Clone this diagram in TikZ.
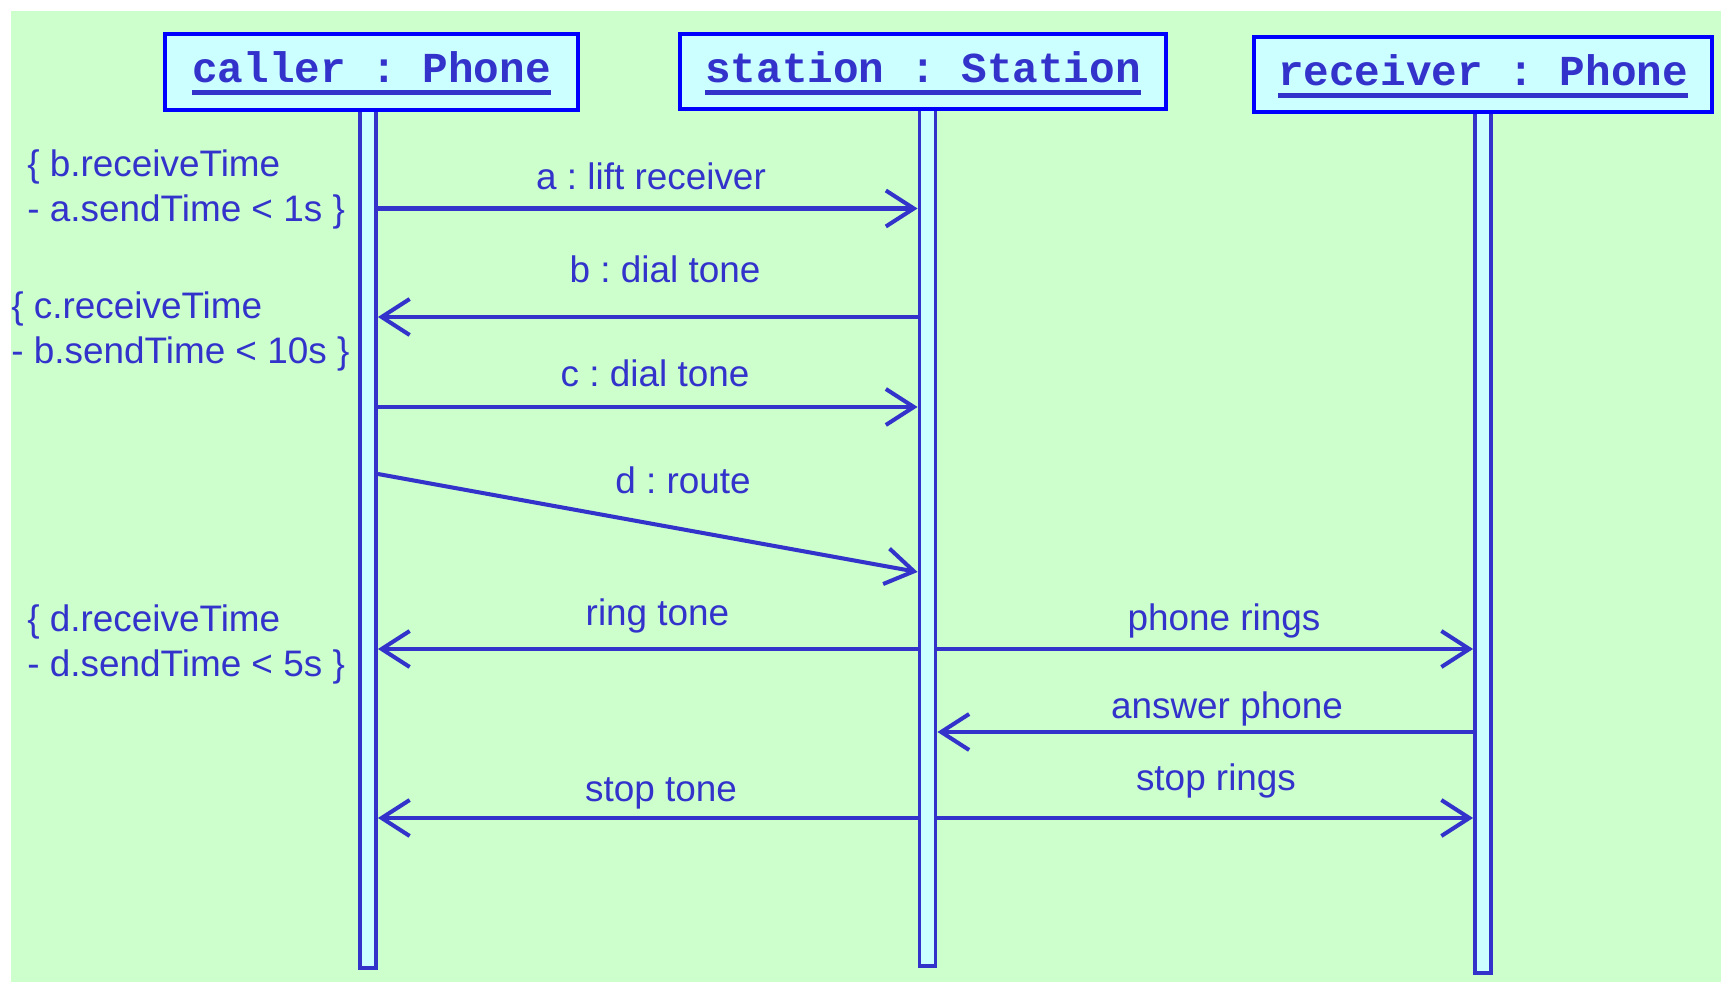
\documentclass[tikz,border=0pt]{standalone}
\usepackage{fontspec}
\setmainfont{Liberation Sans}
\newfontfamily\monofont{Liberation Mono}
\usepackage{xcolor}
\usetikzlibrary{arrows.meta, positioning, calc}
\frenchspacing

\definecolor{bggreen}{HTML}{CCFFCC}
\definecolor{boxfill}{HTML}{CCFFFF}
\definecolor{boxblue}{HTML}{0000FF}
\definecolor{lineblue}{HTML}{3333CC}

% underlined object name
\newcommand{\objname}[1]{\setbox0\hbox{#1}\rlap{\rule[-0.25cm]{\wd0}{0.1cm}}\box0}

\begin{document}
\begin{tikzpicture}[x=0.02cm, y=-0.02cm,
  font=\fontsize{21pt}{25.6pt}\selectfont, text=lineblue,
  objbox/.style={draw=boxblue, fill=boxfill, line width=2.5pt, inner sep=0pt,
    text height=0.7cm, text depth=0.26cm,
    font=\monofont\bfseries\fontsize{24.3pt}{29pt}\selectfont},
  lifeline/.style={draw=lineblue, fill=boxfill, line width=2.2pt,
    minimum width=0.32cm, inner sep=0pt},
  msg/.style={draw=lineblue, line width=2.3pt,
    -{Straight Barb[length=0.56cm,width=0.72cm]}},
  msglabel/.style={anchor=base, inner sep=0pt},
  constraint/.style={anchor=north west, align=left, inner sep=0pt}]

  \useasboundingbox (0,0) rectangle (1721,982);
  % background
  \fill[bggreen] (11,11) rectangle (1721,982);

  % lifelines
  \node[lifeline, minimum height=17.16cm] (cl) at (368,539) {};
  \node[lifeline, minimum height=17.14cm] (sl) at (927.5,537.5) {};
  \node[lifeline, minimum height=17.22cm] (rl) at (1483,542.5) {};

  % objects
  \node[objbox, minimum width=8.26cm, minimum height=1.52cm] (caller) at (371.5,72) {\objname{caller : Phone}};
  \node[objbox, minimum width=9.72cm, minimum height=1.5cm] (station) at (923,71.5) {\objname{station : Station}};
  \node[objbox, minimum width=9.16cm, minimum height=1.5cm] (receiver) at (1483,74.5) {\objname{receiver : Phone}};

  % messages caller <-> station
  \draw[msg] (cl.east |- 0,208.5) -- (sl.west |- 0,208.5);
  \node[msglabel] (la) at (651,190) {a : lift receiver};
  \draw[msg] (sl.west |- 0,317) -- (cl.east |- 0,317);
  \node[msglabel] (lb) at (665,283) {b : dial tone};
  \draw[msg] (cl.east |- 0,407) -- (sl.west |- 0,407);
  \node[msglabel] (lc) at (655,387) {c : dial tone};
  \draw[msg] (cl.east |- 0,474) -- (sl.west |- 0,572);
  \node[msglabel] (ld) at (683,494) {d : route};
  \draw[msg] (sl.west |- 0,649) -- (cl.east |- 0,649);
  \node[msglabel] (lring) at (657.5,626) {ring tone};
  \draw[msg] (sl.west |- 0,818) -- (cl.east |- 0,818);
  \node[msglabel] (lstop) at (661,802) {stop tone};

  % messages station <-> receiver
  \draw[msg] (sl.east |- 0,649) -- (rl.west |- 0,649);
  \node[msglabel] (lrings) at (1224,631) {phone rings};
  \draw[msg] (rl.west |- 0,732) -- (sl.east |- 0,732);
  \node[msglabel] (lanswer) at (1227,719) {answer phone};
  \draw[msg] (sl.east |- 0,818) -- (rl.west |- 0,818);
  \node[msglabel] (lstoprings) at (1216,790) {stop rings};

  % timing constraints
  \node[constraint] (ca) at (27,149) {\{ b.receiveTime\\- a.sendTime < 1s \}};
  \node[constraint] (cb) at (11,291) {\{ c.receiveTime\\- b.sendTime < 10s \}};
  \node[constraint] (cd) at (27,604) {\{ d.receiveTime\\- d.sendTime < 5s \}};
\end{tikzpicture}
\end{document}
